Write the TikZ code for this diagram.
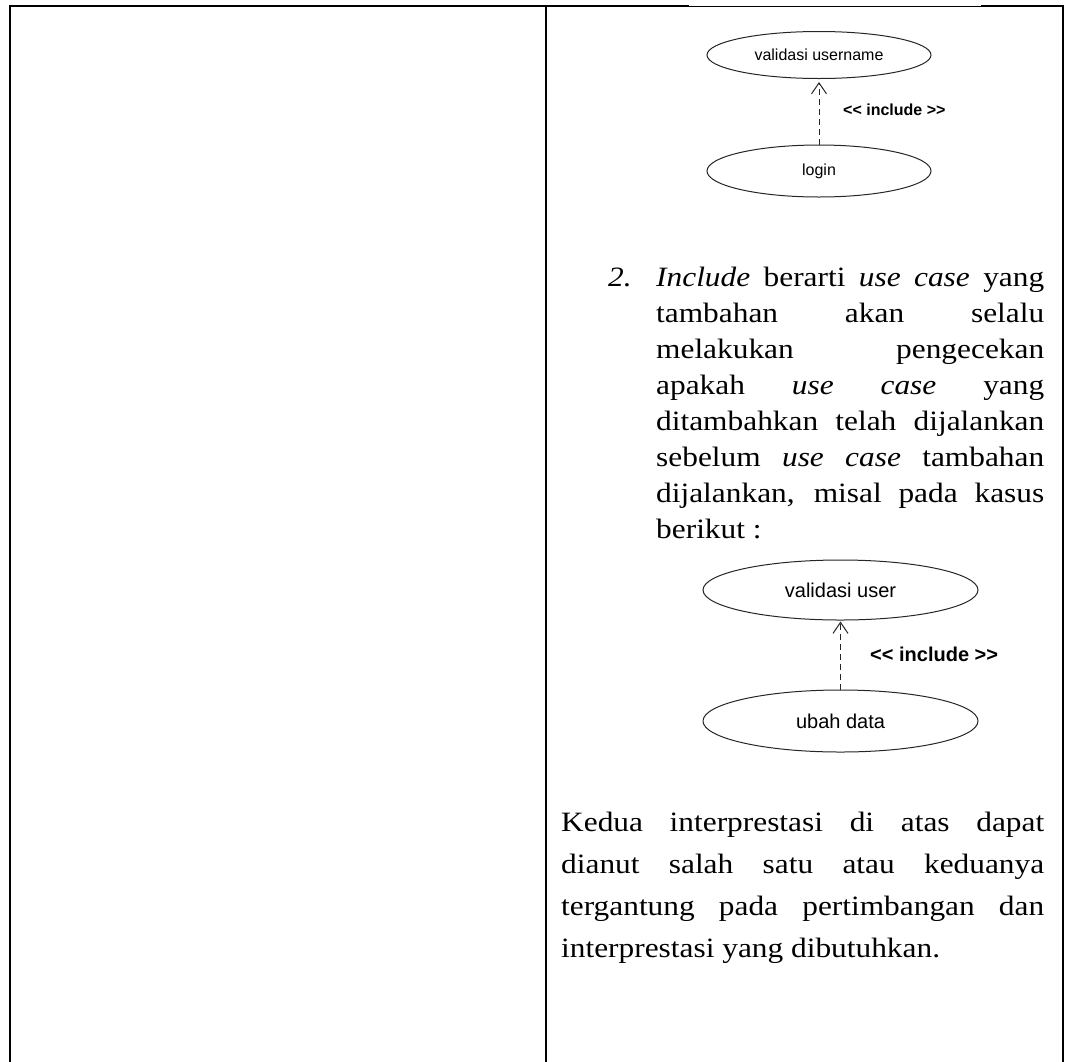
\documentclass[tikz,border=0pt]{standalone}
\usepackage{fontspec}
\setmainfont[FakeStretch=1.12]{Liberation Serif}
\newfontfamily\umlfont{Liberation Sans}
\usetikzlibrary{arrows.meta,shapes.geometric}

\tikzset{
  frame/.style={line width=2pt, line cap=rect},
  thinframe/.style={line width=0.8pt},
  usecase/.style={ellipse, draw=black!85, line width=1pt, inner sep=0pt},
  dep/.style={draw=black!85, line width=1pt, dash pattern=on 6pt off 4pt,
              -{Straight Barb[length=11pt,width=15pt,line width=1pt]}},
  stereo/.style={anchor=west, inner sep=0pt},
  line/.style={anchor=base west, inner sep=0pt, font=\fontsize{28}{30}\selectfont},
}
\newcommand{\jl}[2]{\makebox[#1][s]{#2}}

\begin{document}
\begin{tikzpicture}[x=1pt,y=-1pt]
\useasboundingbox (0,0) rectangle (1065,1061);

% table frame
\coordinate (tl) at (9.5,6);
\coordinate (tm) at (546,6);
\coordinate (tr) at (1063,6);
\coordinate (bl) at (9.5,1061);
\coordinate (bm) at (546,1061);
\coordinate (br) at (1063,1061);
\coordinate (g1) at (688,6);
\coordinate (g2) at (982,6);
\draw[frame] (bl) -- (tl) -- (g1);
\draw[thinframe] (g1) -- (g2);
\draw[frame] (g2) -- (tr) -- (br);
\draw[frame] (tm) -- (bm);

% first include example
\node[usecase, minimum width=224pt, minimum height=47pt,
      font=\umlfont\fontsize{16}{18}\selectfont] (vu) at (819,55) {validasi username};
\node[usecase, minimum width=224pt, minimum height=52pt,
      font=\umlfont\fontsize{16}{18}\selectfont] (lg) at (819,171) {login};
\draw[dep, shorten >=3pt] (lg) -- (vu);
\node[stereo, font=\umlfont\bfseries\fontsize{16}{18}\selectfont] (s1) at (843,110) {<{}< include >{}>};

% item 2
\node[line] (n2) at (608,286) {\textit{2.}};
\node[line] (l1) at (656,286) {\jl{388pt}{\textit{Include} berarti \textit{use case} yang}};
\node[line] (l2) at (656,322) {\jl{388pt}{tambahan akan selalu}};
\node[line] (l3) at (656,358) {\jl{388pt}{melakukan pengecekan}};
\node[line] (l4) at (656,394) {\jl{388pt}{apakah \textit{use case} yang}};
\node[line] (l5) at (656,430) {\jl{388pt}{ditambahkan telah dijalankan}};
\node[line] (l6) at (656,466) {\jl{388pt}{sebelum \textit{use case} tambahan}};
\node[line] (l7) at (656,502) {\jl{388pt}{dijalankan, misal pada kasus}};
\node[line] (l8) at (656,538) {berikut :};

% second include example
\node[usecase, minimum width=275pt, minimum height=60pt,
      font=\umlfont\fontsize{20}{22}\selectfont] (vs) at (840.5,590) {validasi user};
\node[usecase, minimum width=275pt, minimum height=62pt,
      font=\umlfont\fontsize{20}{22}\selectfont] (ud) at (840.5,721) {ubah data};
\draw[dep, shorten >=1pt] (ud) -- (vs);
\node[stereo, font=\umlfont\bfseries\fontsize{20}{22}\selectfont] (s2) at (870,654) {<{}< include >{}>};

% closing paragraph
\node[line] (p1) at (561,831) {\jl{483pt}{Kedua interprestasi di atas dapat}};
\node[line] (p2) at (561,873) {\jl{483pt}{dianut salah satu atau keduanya}};
\node[line] (p3) at (561,915) {\jl{483pt}{tergantung pada pertimbangan dan}};
\node[line] (p4) at (561,957) {interprestasi yang dibutuhkan.};
\end{tikzpicture}
\end{document}
